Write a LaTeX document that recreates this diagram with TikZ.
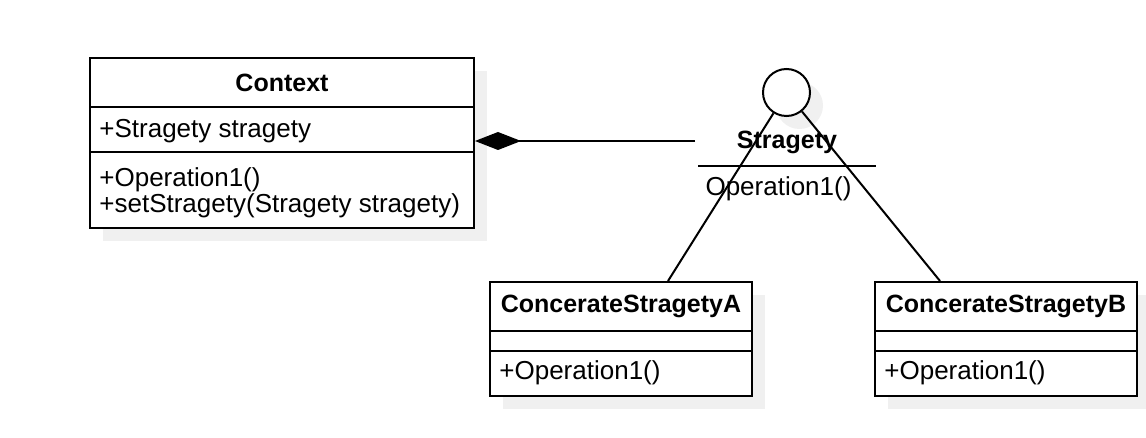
\documentclass[tikz,border=0pt]{standalone}
\usepackage{fontspec}
\setmainfont{Liberation Sans}
\usetikzlibrary{arrows.meta,shadows}

\begin{document}
\begin{tikzpicture}[x=0.5pt,y=-0.5pt,
    font=\fontsize{13}{13}\selectfont,
    umlbox/.style={draw,line width=1pt,fill=white,inner sep=0pt,
        drop shadow={shadow xshift=6.5pt,shadow yshift=-6.5pt,fill=black!6,opacity=1}},
    umltext/.style={inner sep=0pt,anchor=west,align=left},
    umlname/.style={inner sep=0pt,font=\fontsize{12.5}{13.5}\selectfont\bfseries}
]
\useasboundingbox (0,0) rectangle (1146,438);
% Classes
\node[umlbox,minimum width=192pt,minimum height=85pt] (context) at (282,143){};
\node[umlname] (contextname) at (282,83){Context};
\draw[line width=1pt]([yshift=-25pt]context.north west)-- ([yshift=-25pt]context.north east);
\draw[line width=1pt]([yshift=-47.5pt]context.north west)-- ([yshift=-47.5pt]context.north east);
\node[umltext] (contextattr) at ([xshift=5pt,yshift=-37pt]context.north west){+Stragety stragety};
\node[umltext] (contextops) at ([xshift=5pt,yshift=-68pt]context.north west){+Operation1()\\+setStragety(Stragety stragety)};

\node[umlbox,minimum width=131pt,minimum height=57pt] (conca) at (621,339){};
\node[umlname] (concaname) at ([yshift=-12.5pt]conca.north){ConcerateStragetyA};
\draw[line width=1pt]([yshift=-25pt]conca.north west)-- ([yshift=-25pt]conca.north east);
\draw[line width=1pt]([yshift=-35pt]conca.north west)-- ([yshift=-35pt]conca.north east);
\node[umltext] (concaops) at ([xshift=5pt,yshift=-46pt]conca.north west){+Operation1()};

\node[umlbox,minimum width=131pt,minimum height=57pt] (concb) at (1006,339){};
\node[umlname] (concbname) at ([yshift=-12.5pt]concb.north){ConcerateStragetyB};
\draw[line width=1pt]([yshift=-25pt]concb.north west)-- ([yshift=-25pt]concb.north east);
\draw[line width=1pt]([yshift=-35pt]concb.north west)-- ([yshift=-35pt]concb.north east);
\node[umltext] (concbops) at ([xshift=5pt,yshift=-46pt]concb.north west){+Operation1()};

% Interface
\node[umlbox,circle,minimum size=23.5pt] (stragety) at (786.5,92.5){};
\node[umlname] (stragetyname) at (787,142){Stragety};
\draw[line width=1pt](698,166)-- (876,166);
\node[inner sep=0pt] (stragetyops) at (778.5,189){Operation1()};

\draw[line width=1pt](stragety)-- ([xshift=23.5pt]conca.north);
\draw[line width=1pt](stragety)-- ([xshift=-33pt]concb.north);
\coordinate (assocend) at (695,141);
\draw[line width=1pt,-{Diamond[length=23pt,width=9pt]}](assocend)-- (context.east |- assocend);
\end{tikzpicture}
\end{document}
